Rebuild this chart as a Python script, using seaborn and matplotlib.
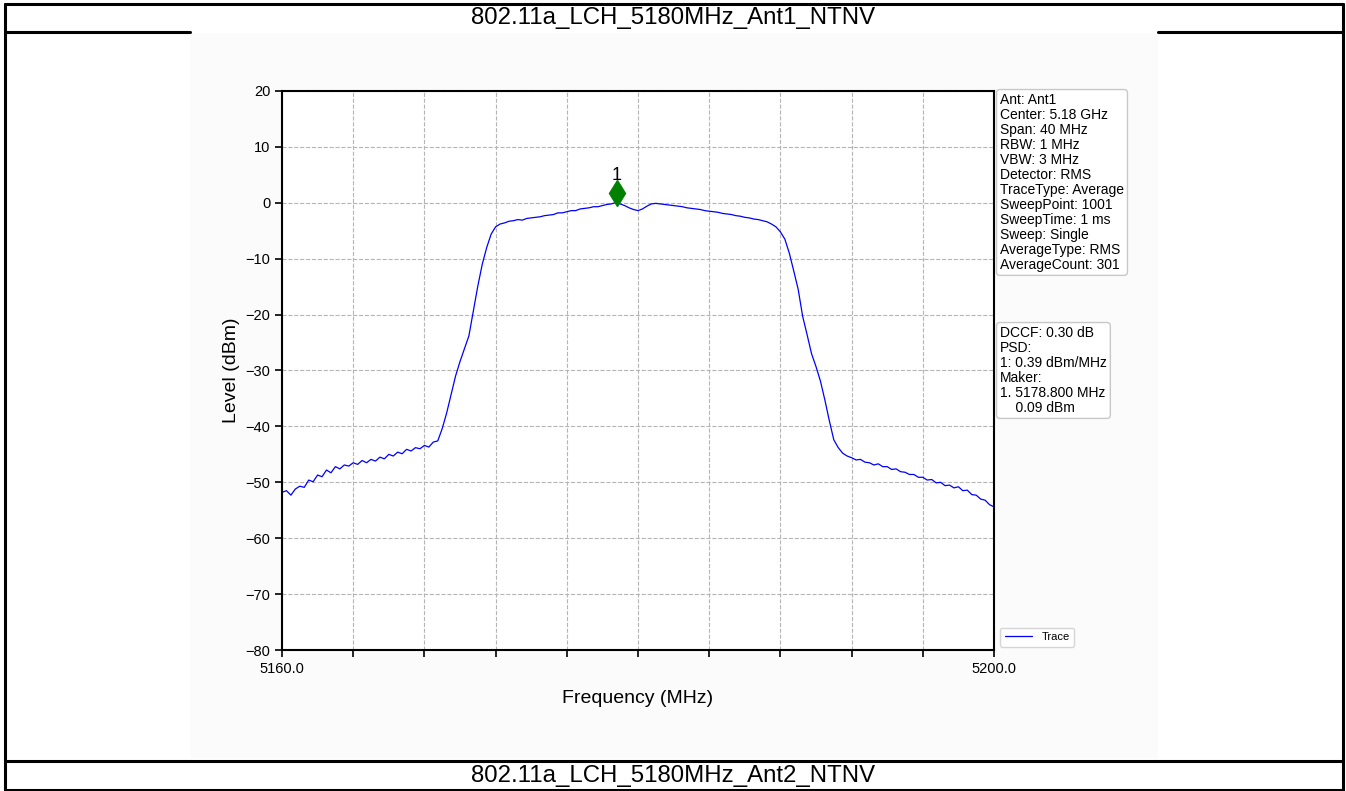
import numpy as np
import matplotlib
matplotlib.use("Agg")
import matplotlib.pyplot as plt
import seaborn as sns
from matplotlib.patches import Rectangle
from matplotlib.lines import Line2D

# sweep: 5160 - 5200 MHz, trace every 0.25 MHz
f_start = 5160.0
f_stop = 5200.0
levels = [
    -51.8, -51.5, -52.3, -51.2, -50.7, -50.9, -49.6, -49.9,
    -48.7, -49.0, -47.8, -48.3, -47.2, -47.6, -46.9, -47.1,
    -46.5, -46.8, -46.1, -46.5, -45.9, -46.2, -45.5, -45.8,
    -45.0, -45.3, -44.6, -44.9, -44.1, -44.4, -43.8, -44.0,
    -43.4, -43.7, -42.8, -42.6, -40.4, -37.6, -34.3, -31.0,
    -28.4, -26.1, -23.8, -19.4, -14.9, -11.0, -8.0, -5.6,
    -4.3, -3.8, -3.6, -3.3, -3.2, -3.0, -3.1, -2.8,
    -2.7, -2.6, -2.5, -2.3, -2.2, -2.1, -1.8, -1.8,
    -1.6, -1.4, -1.4, -1.1, -1.0, -0.9, -0.7, -0.7,
    -0.5, -0.3, -0.2, 0.05, -0.2, -0.5, -0.9, -1.2,
    -1.4, -1.1, -0.6, -0.2, -0.1, -0.2, -0.3, -0.4,
    -0.5, -0.6, -0.7, -0.9, -1.0, -1.1, -1.2, -1.4,
    -1.5, -1.6, -1.7, -1.9, -2.0, -2.1, -2.3, -2.4,
    -2.6, -2.7, -2.9, -3.0, -3.2, -3.4, -3.8, -4.3,
    -5.2, -6.5, -9.0, -12.2, -15.5, -20.3, -23.6, -27.0,
    -29.3, -31.9, -35.3, -39.0, -42.4, -43.8, -44.8, -45.3,
    -45.6, -46.0, -45.9, -46.4, -46.5, -46.9, -46.7, -47.2,
    -47.2, -47.7, -47.6, -48.1, -48.2, -48.6, -48.6, -49.1,
    -49.1, -49.6, -49.5, -50.1, -50.0, -50.6, -50.5, -51.0,
    -50.8, -51.5, -51.4, -52.2, -52.3, -53.0, -53.2, -54.0,
    -54.4,
]
freq = np.linspace(f_start, f_stop, len(levels))

marker_freq = 5178.8
marker_level = 0.09
marker_name = "1"

y_ticks = [20, 10, 0, -10, -20, -30, -40, -50, -60, -70, -80]
x_ticks = [5160, 5164, 5168, 5172, 5176, 5180, 5184, 5188, 5192, 5196, 5200]

title_top = "802.11a_LCH_5180MHz_Ant1_NTNV"
title_bottom = "802.11a_LCH_5180MHz_Ant2_NTNV"

info_lines = ["Ant: Ant1", "Center: 5.18 GHz", "Span: 40 MHz", "RBW: 1 MHz",
              "VBW: 3 MHz", "Detector: RMS", "TraceType: Average",
              "SweepPoint: 1001", "SweepTime: 1 ms", "Sweep: Single",
              "AverageType: RMS", "AverageCount: 301"]
result_lines = ["DCCF: 0.30 dB", "PSD:", "1: 0.39 dBm/MHz", "Maker:",
                "1. 5178.800 MHz", "    0.09 dBm"]

sns.set_style("white")
plt.rcParams['font.family'] = ['Liberation Sans', 'DejaVu Sans']
plt.rcParams['text.color'] = 'black'
plt.rcParams['axes.labelcolor'] = 'black'
plt.rcParams['xtick.color'] = 'black'
plt.rcParams['ytick.color'] = 'black'

W, H = 1346, 791
fig = plt.figure(figsize=(W / 100, H / 100), dpi=100)

def fx(px):
    return px / W

def fy(py):
    return 1 - py / H

# report table frame
fig.patches.append(Rectangle((fx(190), fy(758)), fx(1158 - 190), (758 - 33) / H,
                             transform=fig.transFigure, facecolor="#fbfbfb",
                             edgecolor="none", zorder=-10))
for (x0, y0, x1, y1) in [(5, 4, 1343, 4), (5, 4, 5, 790), (1343, 4, 1343, 790),
                         (5, 790, 1343, 790), (5, 32, 190, 32), (1158, 32, 1343, 32),
                         (5, 761, 1343, 761)]:
    fig.lines.append(Line2D([fx(x0), fx(x1)], [fy(y0), fy(y1)], transform=fig.transFigure,
                            color="black", linewidth=2.2, zorder=-5))
fig.text(0.5, fy(18), title_top, ha="center", va="center", fontsize=17.3)
fig.text(0.5, fy(776), title_bottom, ha="center", va="center", fontsize=17.3)

ax = fig.add_axes([fx(282), fy(650), fx(994 - 282), (650 - 91) / H])
ax.set_facecolor("white")
ax.set_zorder(2)

sns.lineplot(x=freq, y=levels, ax=ax, color="blue", linewidth=0.9, label="Trace")
ax.plot([marker_freq], [marker_level + 1.6], marker="d", color="green",
        markersize=13, linestyle="none")
ax.text(marker_freq, marker_level + 3.3, marker_name, ha="center", va="bottom",
        fontsize=13)

ax.set_xlim(f_start, f_stop)
ax.set_ylim(-80, 20)
ax.set_yticks(y_ticks)
ax.set_xticks(x_ticks)
ax.set_xticklabels(["5160.0"] + [""] * 9 + ["5200.0"])
ax.tick_params(axis="both", direction="out", length=5, width=1.2, labelsize=10.5,
               left=True, bottom=True)
ax.grid(True, linestyle="--", color="#b5b5b5", linewidth=0.8)
for s in ax.spines.values():
    s.set_color("black")
    s.set_linewidth(1.5)

ax.set_xlabel("Frequency (MHz)", fontsize=14, labelpad=10)
ax.set_ylabel("Level (dBm)", fontsize=14, labelpad=4)

ax.legend(loc="lower left", bbox_to_anchor=(1.004, 0.0), fontsize=8,
          frameon=True, borderaxespad=0.3, handlelength=2.5)

box = dict(boxstyle="round,pad=0.25", facecolor="white", edgecolor="#c8c8c8")
fig.text(fx(1000), fy(93), "\n".join(info_lines), ha="left", va="top",
         fontsize=10, linespacing=1.09, bbox=box, zorder=5)
fig.text(fx(1000), fy(326), "\n".join(result_lines), ha="left", va="top",
         fontsize=10, linespacing=1.09, bbox=box, zorder=5)

fig.savefig("out.png", dpi=100)
